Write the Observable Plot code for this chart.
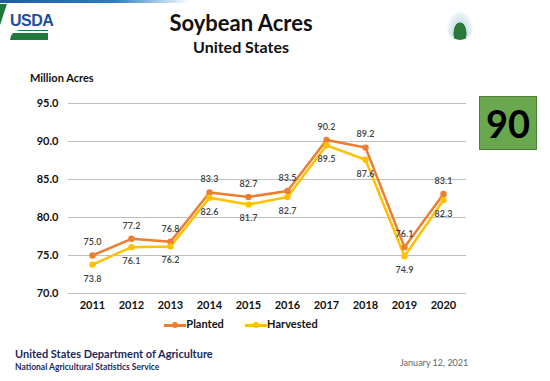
<!DOCTYPE html>
<html><head><meta charset="utf-8">
<script src="https://cdn.jsdelivr.net/npm/d3@7"></script>
<script src="https://cdn.jsdelivr.net/npm/@observablehq/plot@0.6"></script>
<style>
body{margin:0;background:#fff;font-family:Lato,"Open Sans",sans-serif;}
#wrap{position:relative;width:550px;height:381px;overflow:hidden;}
.abs{position:absolute;white-space:nowrap;}
</style></head><body>
<div id="wrap">
  <div class="abs" style="left:0;top:0;width:190px;height:3px;background:linear-gradient(90deg,#1f5aa6,#2b7bc4 60%,rgba(255,255,255,0));"></div>
  <div class="abs" style="left:-4px;top:4px;width:7px;height:24px;background:#1a7a3a;transform:skewX(-18deg);"></div>
  <div class="abs" style="left:10px;top:12px;font:bold 16px 'Liberation Sans Narrow','Liberation Sans',sans-serif;color:#1b4f9c;letter-spacing:-0.5px;">USDA</div>
  <div class="abs" style="left:10px;top:30px;width:38px;height:10px;background:#1e7a3c;border-radius:10px 0 0 0;"></div>
  <div class="abs" style="left:10px;top:31px;width:38px;height:2px;background:#fff;border-radius:10px 0 0 0;"></div>
  <div class="abs" style="left:446px;top:10px;width:28px;height:30px;border-radius:50%;background:radial-gradient(ellipse at 50% 78%,#2a7a3a 32%,#cfe3ea 34%,#eaf3f6 60%,#fff 70%);"></div>
  <div class="abs" style="left:0;width:482px;top:9px;text-align:center;font:bold 22px Lato,sans-serif;color:#111;">Soybean Acres</div>
  <div class="abs" style="left:0;width:482px;top:37px;text-align:center;font:bold 16px Lato,sans-serif;color:#111;">United States</div>
  <div class="abs" style="left:30px;top:71px;font:bold 11px Lato,sans-serif;color:#111;">Million Acres</div>
  <div class="abs" style="left:479px;top:96px;width:58px;height:54px;background:#6aa84f;border:1px solid #4f7f3a;box-sizing:border-box;text-align:center;font:bold 38px Lato,sans-serif;line-height:52px;color:#000;">90</div>
  <div id="chart" class="abs" style="left:0;top:0;"></div>
  <div class="abs" style="left:0;width:482px;top:317px;text-align:center;font:bold 11px Lato,sans-serif;color:#111;">
    <span style="display:inline-block;width:22px;height:3px;background:#ED7D31;vertical-align:middle;position:relative;"><span style="position:absolute;left:8px;top:-2px;width:6px;height:6px;border-radius:50%;background:#ED7D31;"></span></span>Planted
    <span style="display:inline-block;width:16px;"></span>
    <span style="display:inline-block;width:22px;height:3px;background:#FFC000;vertical-align:middle;position:relative;"><span style="position:absolute;left:8px;top:-2px;width:6px;height:6px;border-radius:50%;background:#FFC000;"></span></span>Harvested
  </div>
  <div class="abs" style="left:15px;top:347px;font:bold 11px Lato,sans-serif;color:#1c2a5a;">United States Department of Agriculture</div>
  <div class="abs" style="left:15px;top:362px;font:bold 8.5px Lato,sans-serif;color:#1c2a5a;">National Agricultural Statistics Service</div>
  <div class="abs" style="left:400px;top:357px;font:9px Lato,sans-serif;color:#666;">January 12, 2021</div>
</div>
<script>
const years = ["2011","2012","2013","2014","2015","2016","2017","2018","2019","2020"];
const planted = [75.0,77.2,76.8,83.3,82.7,83.5,90.2,89.2,76.1,83.1];
const harvested = [73.8,76.1,76.2,82.6,81.7,82.7,89.5,87.6,74.9,82.3];
const yTicks = [70,75,80,85,90,95];

const P = years.map((y,i)=>({year:y,value:planted[i]}));
const H = years.map((y,i)=>({year:y,value:harvested[i]}));

const chart = Plot.plot({
  width:550, height:381,
  marginTop:103, marginBottom:88, marginLeft:68, marginRight:84,
  style:{fontFamily:"Lato, sans-serif", background:"transparent", overflow:"visible"},
  x:{type:"point", domain:years, padding:0.5, label:null, tickSize:0, tickPadding:8},
  y:{domain:[70,95], ticks:yTicks, label:null, tickFormat:d=>d.toFixed(1), tickSize:0, tickPadding:10},
  marks:[
    Plot.ruleY(yTicks,{stroke:"#bfbfbf", strokeWidth:1}),
    Plot.axisX({tickSize:0, tickPadding:8, fontSize:11, fontWeight:"bold", fill:"#111"}),
    Plot.axisY({ticks:yTicks, tickSize:0, tickPadding:10, tickFormat:d=>d.toFixed(1), fontSize:11, fontWeight:"bold", fill:"#111"}),
    Plot.line(P,{x:"year",y:"value",stroke:"#ED7D31",strokeWidth:2.5}),
    Plot.line(H,{x:"year",y:"value",stroke:"#FFC000",strokeWidth:2.5}),
    Plot.dot(P,{x:"year",y:"value",fill:"#ED7D31",r:3.2}),
    Plot.dot(H,{x:"year",y:"value",fill:"#FFC000",r:3.2}),
    Plot.text(P,{x:"year",y:"value",text:d=>d.value.toFixed(1),dy:-13,fontSize:9,fontWeight:600,fill:"#404040"}),
    Plot.text(H,{x:"year",y:"value",text:d=>d.value.toFixed(1),dy:14,fontSize:9,fontWeight:600,fill:"#404040"})
  ]
});
document.getElementById("chart").appendChild(chart);
</script>
</body></html>
